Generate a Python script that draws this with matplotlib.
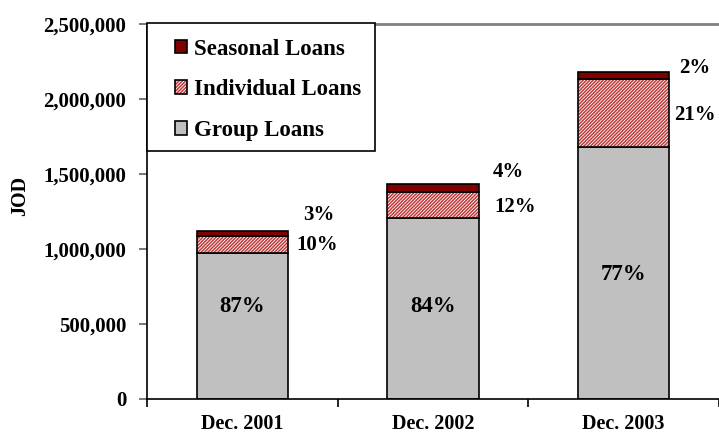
import matplotlib
matplotlib.use("Agg")
import matplotlib.pyplot as plt
from matplotlib.patches import Patch, Rectangle
from matplotlib.legend_handler import HandlerTuple
from matplotlib.ticker import FuncFormatter, FixedLocator
import numpy as np

# ---- data ----
categories = ["Dec. 2001", "Dec. 2002", "Dec. 2003"]
group_loans = [975000, 1205000, 1680000]
individual_loans = [110000, 175000, 455000]
seasonal_loans = [35000, 55000, 45000]
group_pct = ["87%", "84%", "77%"]
individual_pct = ["10%", "12%", "21%"]
seasonal_pct = ["3%", "4%", "2%"]
yticks = [0, 500000, 1000000, 1500000, 2000000, 2500000]

# ---- layout (label placement) ----
group_label_y = [615000, 620000, 827000]
indiv_label_y = [1030000, 1283000, 1890000]
seas_label_y = [1227000, 1515000, 2210000]
indiv_label_dx = [0.045, 0.082, 0.025]
seas_label_dx = [0.077, 0.071, 0.05]

plt.rcParams['font.family'] = ['Liberation Serif', 'DejaVu Serif']
plt.rcParams['font.weight'] = 'bold'
plt.rcParams['hatch.linewidth'] = 1.1

W, H = 719, 434
fig = plt.figure(figsize=(W / 100, H / 100), dpi=100)
ax = fig.add_axes([147 / W, 35 / H, 572 / W, 375 / H])

x = np.arange(len(categories))
bw = 0.48
g = np.array(group_loans)
ind = np.array(individual_loans)
sea = np.array(seasonal_loans)

GREY = '#C0C0C0'
RED = '#800000'
HATCH_RED = '#C03A3A'
HATCH = '//////////'

ax.bar(x, g, bw, color=GREY, edgecolor='black', linewidth=1.2, zorder=2)
ax.bar(x, ind, bw, bottom=g, facecolor='white', edgecolor=HATCH_RED,
       hatch=HATCH, linewidth=0, zorder=2)
ax.bar(x, ind, bw, bottom=g, fill=False, edgecolor='black', linewidth=1.2, zorder=3)
ax.bar(x, sea, bw, bottom=g + ind, color=RED, edgecolor='black', linewidth=1.2, zorder=3)

ax.set_xlim(-0.5, 2.5)
ax.set_ylim(0, 2500000)

# spines
ax.spines['right'].set_visible(False)
ax.spines['top'].set_color('#808080')
ax.spines['top'].set_linewidth(2.0)
ax.spines['left'].set_linewidth(1.2)
ax.spines['bottom'].set_linewidth(1.2)

ax.yaxis.set_major_locator(FixedLocator(yticks))
ax.yaxis.set_major_formatter(FuncFormatter(lambda v, p: f"{int(v):,}"))
ax.tick_params(axis='y', direction='out', length=6, width=1.2, color='#606060',
               pad=9, labelsize=15)

ax.set_xticks(x)
ax.set_xticklabels(categories)
ax.set_xticks(np.arange(-0.5, 3.0, 1.0), minor=True)
ax.tick_params(axis='x', which='major', length=0, pad=11, labelsize=14.5)
ax.tick_params(axis='x', which='minor', direction='out', length=6, width=1.2)

fig.text(20 / W, 1 - 196 / H, "JOD", rotation=90, ha='center', va='center',
         fontsize=14.5, fontweight='bold')

# percentage labels
for i in range(len(categories)):
    ax.text(x[i], group_label_y[i], group_pct[i], ha='center', va='center',
            fontsize=16.5, fontweight='bold', zorder=5)
    ax.text(x[i] + bw / 2 + indiv_label_dx[i], indiv_label_y[i], individual_pct[i],
            ha='left', va='center', fontsize=15, fontweight='bold')
    ax.text(x[i] + bw / 2 + seas_label_dx[i], seas_label_y[i], seasonal_pct[i],
            ha='left', va='center', fontsize=15, fontweight='bold')

# legend box
box = Rectangle((147 / W, 1 - 151 / H), (375 - 147) / W, (151 - 23) / H,
                transform=fig.transFigure, facecolor='white', edgecolor='black',
                linewidth=1.2, zorder=10, clip_on=False)
fig.patches.append(box)

h_sea = Patch(facecolor=RED, edgecolor='black', linewidth=1.2)
h_ind = (Patch(facecolor='white', edgecolor=HATCH_RED, hatch=HATCH, linewidth=0),
         Patch(fill=False, edgecolor='black', linewidth=1.2))
h_grp = Patch(facecolor=GREY, edgecolor='black', linewidth=1.2)
leg = fig.legend([h_sea, h_ind, h_grp], ["Seasonal Loans", "Individual Loans", "Group Loans"],
                 handler_map={tuple: HandlerTuple(ndivide=1, pad=0)},
                 loc='upper left', bbox_to_anchor=(170 / W, 1 - 34 / H),
                 frameon=False, prop={'weight': 'bold', 'size': 16.5},
                 handlelength=0.55, handleheight=0.55, handletextpad=0.3,
                 labelspacing=0.86, borderpad=0.2, borderaxespad=0)
leg.set_zorder(11)

fig.savefig("out.png", dpi=100)
